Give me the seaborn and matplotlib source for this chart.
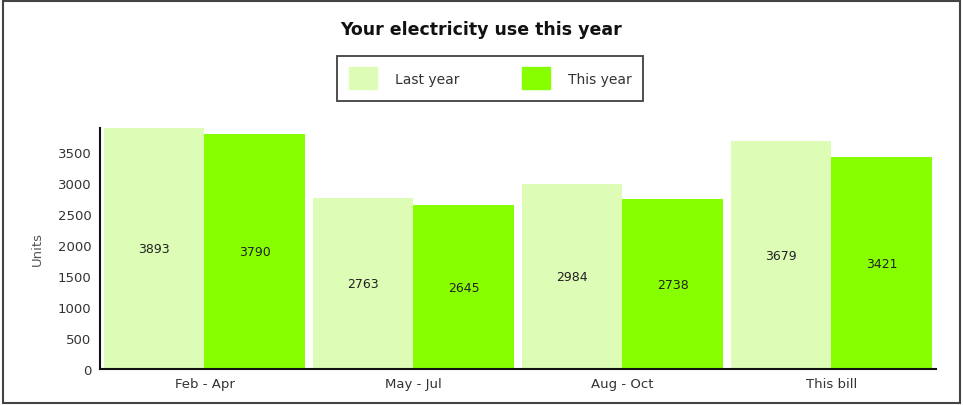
import pandas as pd
import matplotlib
matplotlib.use("Agg")
import matplotlib.pyplot as plt
from matplotlib.patches import Rectangle
import seaborn as sns

# values
periods = ["Feb - Apr", "May - Jul", "Aug - Oct", "This bill"]
last_year = [3893, 2763, 2984, 3679]
this_year = [3790, 2645, 2738, 3421]
series = ["Last year", "This year"]
colors = ["#ddfcb6", "#88ff00"]
yticks = [0, 500, 1000, 1500, 2000, 2500, 3000, 3500]


def build_frame():
    rows = []
    for name, vals in zip(series, [last_year, this_year]):
        for p, v in zip(periods, vals):
            rows.append({"period": p, "series": name, "units": v})
    return pd.DataFrame(rows)


def main():
    df = build_frame()
    sns.set_style("white")
    plt.rcParams["font.family"] = ["DejaVu Sans"]

    fig = plt.figure(figsize=(9.63, 4.06), dpi=100)
    ax = fig.add_axes([0.1038, 0.0887, 0.868, 0.594])

    sns.barplot(data=df, x="period", y="units", hue="series", order=periods,
                hue_order=series, palette=colors, width=0.96, gap=0,
                saturation=1, errorbar=None, linewidth=0, ax=ax, legend=False)

    for cont in ax.containers:
        ax.bar_label(cont, label_type="center", fontsize=9, color="#222222")

    ax.set_xlim(-0.5, 3.5)
    ax.set_ylim(0, 3893)
    ax.set_yticks(yticks)
    ax.tick_params(axis="both", length=0, labelsize=9.5, labelcolor="#333333", pad=6)
    ax.set_xlabel("")
    ax.set_ylabel("Units", fontsize=9.5, color="#555555", labelpad=10)
    for side in ["top", "right"]:
        ax.spines[side].set_visible(False)
    for side in ["left", "bottom"]:
        ax.spines[side].set_color("#111111")
        ax.spines[side].set_linewidth(1.5)

    handles = [Rectangle((0, 0), 1, 1, color=c) for c in colors]
    leg = fig.legend(handles, series, loc="center", bbox_to_anchor=(0.509, 0.805),
                     ncol=2, fontsize=10, frameon=True, fancybox=False,
                     handlelength=2.0, handleheight=2.0, columnspacing=4.5,
                     handletextpad=1.3, borderpad=0.85, borderaxespad=0)
    leg.get_frame().set_edgecolor("#111111")
    leg.get_frame().set_linewidth(1.3)
    for t in leg.get_texts():
        t.set_color("#333333")

    fig.text(0.5, 0.926, "Your electricity use this year", ha="center", va="center",
             fontsize=12.5, fontweight="bold", color="#111111")

    # outer frame round the whole picture
    fig.patches.append(Rectangle((0.003, 0.005), 0.994, 0.99, transform=fig.transFigure,
                                 fill=False, edgecolor="#444444", linewidth=1.5))

    fig.savefig("out.png", dpi=100)


if __name__ == "__main__":
    main()
